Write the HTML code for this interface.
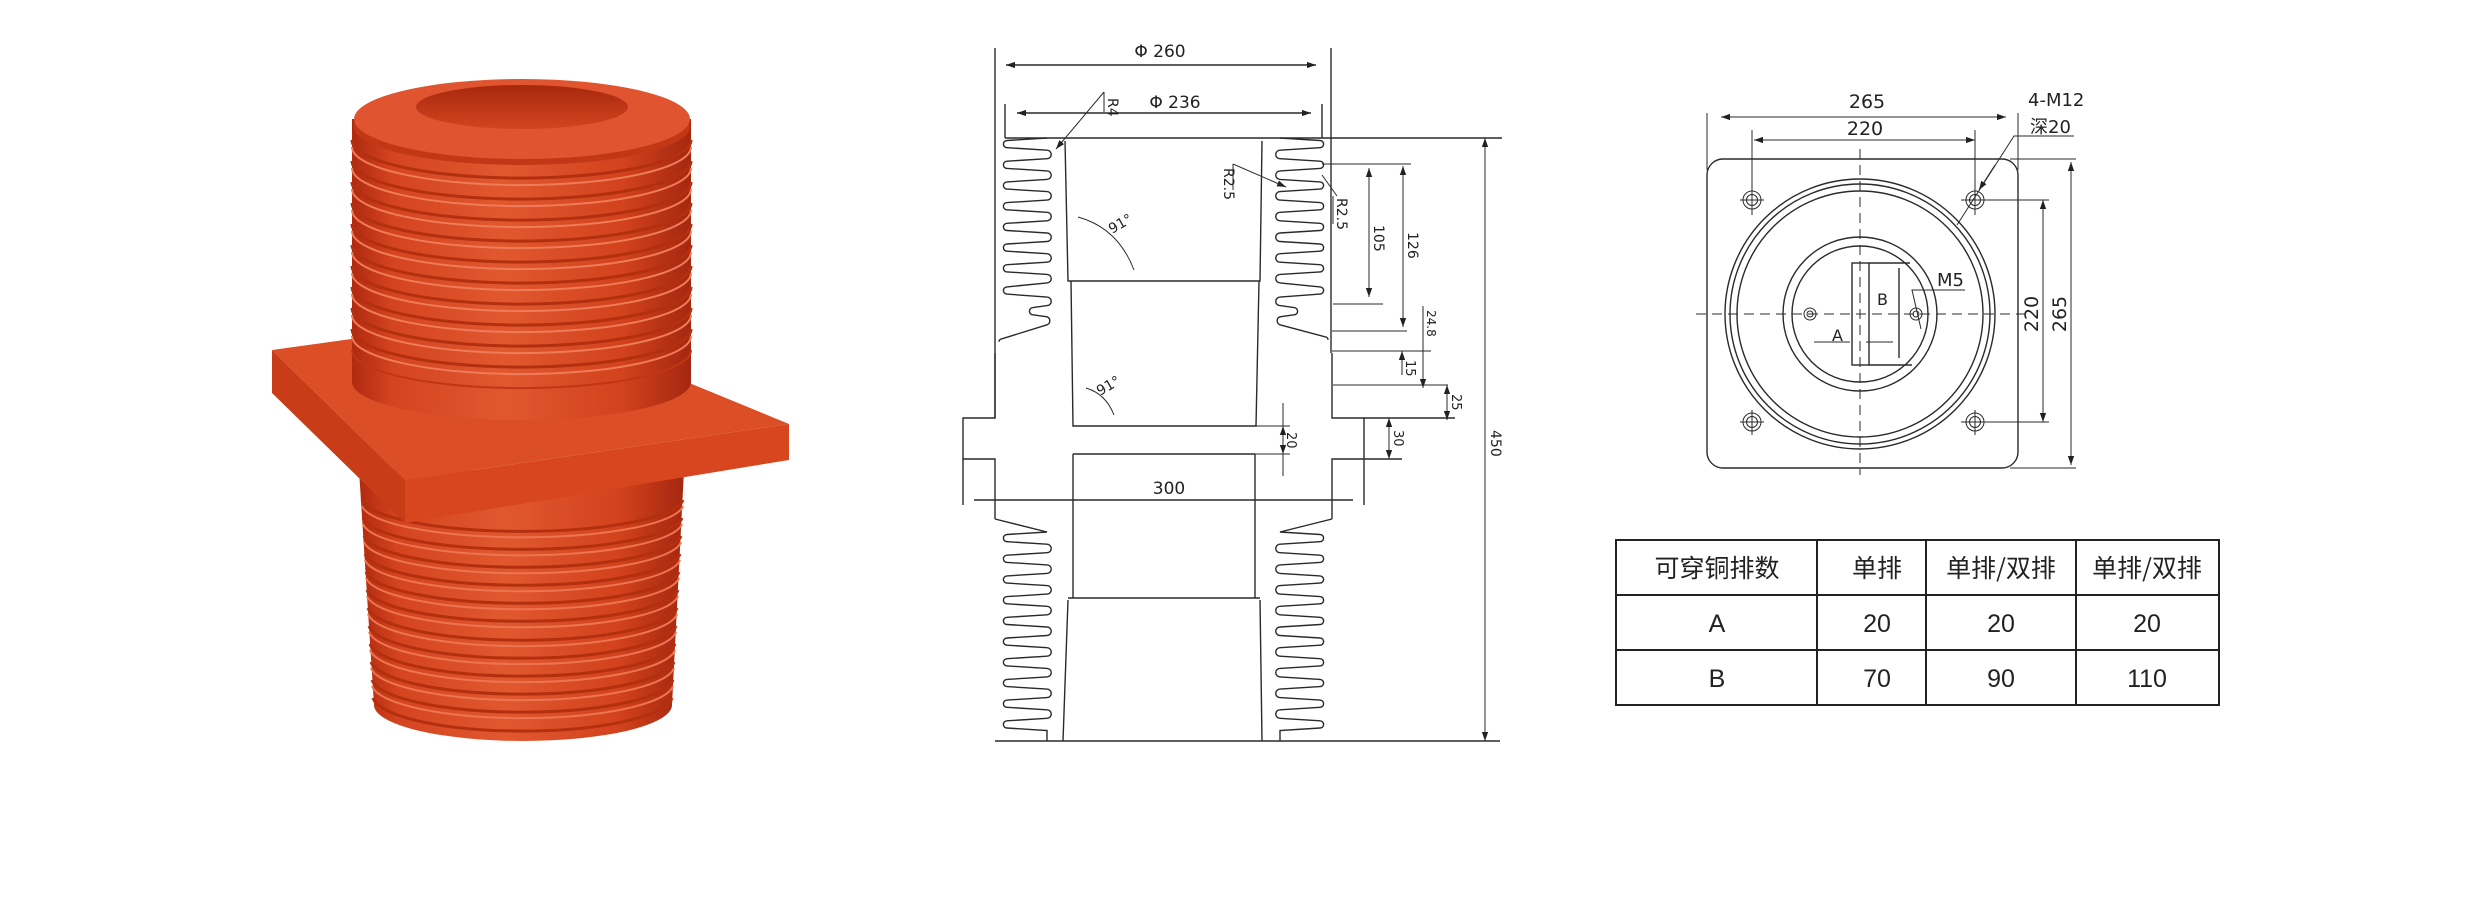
<!DOCTYPE html>
<html><head><meta charset="utf-8">
<style>
html,body{margin:0;padding:0;background:#fff;}
svg{display:block;}
.ln{stroke:#2a2a2a;stroke-width:1.4;fill:none;}
.th{stroke:#2a2a2a;stroke-width:1;fill:none;}
.t{font-family:"DejaVu Sans","Liberation Sans",sans-serif;fill:#222;}
.c{font-family:"Liberation Sans","Noto Sans CJK SC",sans-serif;fill:#222;}
</style></head>
<body>
<svg width="2480" height="924" viewBox="0 0 2480 924" xmlns="http://www.w3.org/2000/svg">
<defs>
<marker id="ar" viewBox="0 0 10 10" refX="10" refY="5" markerWidth="9" markerHeight="9" orient="auto-start-reverse" markerUnits="userSpaceOnUse">
<path d="M0,1.5 L10,5 L0,8.5 z" fill="#222"/></marker>
<linearGradient id="gb" x1="0" x2="1" y1="0" y2="0">
<stop offset="0" stop-color="#b02a10"/><stop offset="0.12" stop-color="#d44420"/>
<stop offset="0.45" stop-color="#e1582f"/><stop offset="0.8" stop-color="#d2421d"/>
<stop offset="1" stop-color="#a52710"/></linearGradient>
<linearGradient id="gh" x1="0" x2="0" y1="0" y2="1">
<stop offset="0" stop-color="#a8280e"/><stop offset="1" stop-color="#d24520"/></linearGradient>
</defs>
<rect width="2480" height="924" fill="#fff"/>

<!-- ===== PHOTO ===== -->
<!-- lower body -->
<path d="M359 470 L374 705 A149 36 0 0 0 672 705 L684 470 Z" fill="url(#gb)"/>
<g fill="none">
<path d="M362 500 A161 34 0 0 0 683 500" stroke="#b3300f" stroke-width="3"/>
<path d="M363 518 A160 34 0 0 0 682 518" stroke="#b3300f" stroke-width="3"/>
<path d="M364 536 A159 34 0 0 0 681 536" stroke="#b3300f" stroke-width="3"/>
<path d="M365 554 A158 34 0 0 0 680 554" stroke="#b3300f" stroke-width="3"/>
<path d="M366 572 A157 34 0 0 0 679 572" stroke="#b3300f" stroke-width="3"/>
<path d="M367 590 A156 34 0 0 0 678 590" stroke="#b3300f" stroke-width="3"/>
<path d="M368 608 A155 35 0 0 0 677 608" stroke="#b3300f" stroke-width="3"/>
<path d="M369 626 A154 35 0 0 0 676 626" stroke="#b3300f" stroke-width="3"/>
<path d="M370 644 A153 35 0 0 0 675 644" stroke="#b3300f" stroke-width="3"/>
<path d="M371 662 A152 35 0 0 0 674 662" stroke="#b3300f" stroke-width="3"/>
<path d="M372 680 A151 35 0 0 0 673 680" stroke="#b3300f" stroke-width="3"/>
<path d="M373 698 A150 36 0 0 0 672 698" stroke="#b3300f" stroke-width="3"/>
<path d="M362 506 A161 34 0 0 0 683 506" stroke="#ec7450" stroke-width="2"/>
<path d="M363 524 A160 34 0 0 0 682 524" stroke="#ec7450" stroke-width="2"/>
<path d="M364 542 A159 34 0 0 0 681 542" stroke="#ec7450" stroke-width="2"/>
<path d="M365 560 A158 34 0 0 0 680 560" stroke="#ec7450" stroke-width="2"/>
<path d="M366 578 A157 34 0 0 0 679 578" stroke="#ec7450" stroke-width="2"/>
<path d="M367 596 A156 34 0 0 0 678 596" stroke="#ec7450" stroke-width="2"/>
<path d="M368 614 A155 35 0 0 0 677 614" stroke="#ec7450" stroke-width="2"/>
<path d="M369 632 A154 35 0 0 0 676 632" stroke="#ec7450" stroke-width="2"/>
<path d="M370 650 A153 35 0 0 0 675 650" stroke="#ec7450" stroke-width="2"/>
<path d="M371 668 A152 35 0 0 0 674 668" stroke="#ec7450" stroke-width="2"/>
<path d="M372 686 A151 35 0 0 0 673 686" stroke="#ec7450" stroke-width="2"/>
</g>
<!-- flange -->
<polygon points="272,350 405,480 405,523 272,393" fill="#c93c18"/>
<polygon points="405,480 789,424 789,460 405,523" fill="#d8461f"/>
<polygon points="272,350 524,315 789,424 405,480" fill="#dc4e26"/>
<!-- upper body -->
<path d="M352 119 L352 382 A169 38 0 0 0 691 382 L691 119 Z" fill="url(#gb)"/>
<g fill="none">
<path d="M352 140 A169 38 0 0 0 691 140" stroke="#b3300f" stroke-width="3"/>
<path d="M352 161 A169 38 0 0 0 691 161" stroke="#b3300f" stroke-width="3"/>
<path d="M352 182 A169 38 0 0 0 691 182" stroke="#b3300f" stroke-width="3"/>
<path d="M352 203 A169 38 0 0 0 691 203" stroke="#b3300f" stroke-width="3"/>
<path d="M352 224 A169 38 0 0 0 691 224" stroke="#b3300f" stroke-width="3"/>
<path d="M352 245 A169 38 0 0 0 691 245" stroke="#b3300f" stroke-width="3"/>
<path d="M352 266 A169 38 0 0 0 691 266" stroke="#b3300f" stroke-width="3"/>
<path d="M352 287 A169 38 0 0 0 691 287" stroke="#b3300f" stroke-width="3"/>
<path d="M352 308 A169 38 0 0 0 691 308" stroke="#b3300f" stroke-width="3"/>
<path d="M352 329 A169 38 0 0 0 691 329" stroke="#b3300f" stroke-width="3"/>
<path d="M352 147 A169 38 0 0 0 691 147" stroke="#ef7c58" stroke-width="2"/>
<path d="M352 168 A169 38 0 0 0 691 168" stroke="#ef7c58" stroke-width="2"/>
<path d="M352 189 A169 38 0 0 0 691 189" stroke="#ef7c58" stroke-width="2"/>
<path d="M352 210 A169 38 0 0 0 691 210" stroke="#ef7c58" stroke-width="2"/>
<path d="M352 231 A169 38 0 0 0 691 231" stroke="#ef7c58" stroke-width="2"/>
<path d="M352 252 A169 38 0 0 0 691 252" stroke="#ef7c58" stroke-width="2"/>
<path d="M352 273 A169 38 0 0 0 691 273" stroke="#ef7c58" stroke-width="2"/>
<path d="M352 294 A169 38 0 0 0 691 294" stroke="#ef7c58" stroke-width="2"/>
<path d="M352 315 A169 38 0 0 0 691 315" stroke="#ef7c58" stroke-width="2"/>
<path d="M352 336 A169 38 0 0 0 691 336" stroke="#ef7c58" stroke-width="2"/>
<path d="M352 350 A169 38 0 0 0 691 350" stroke="#c03614" stroke-width="2"/>
</g>
<!-- top rim -->
<ellipse cx="522" cy="127" rx="168" ry="38" fill="#c23816"/>
<ellipse cx="522" cy="119" rx="168" ry="40" fill="#e05530"/>
<ellipse cx="522" cy="107" rx="106" ry="22" fill="url(#gh)"/>

<!-- ===== SECTION DRAWING ===== -->
<g class="ln">
<!-- extension lines Φ260 / Φ236 -->
<line x1="995" y1="48" x2="995" y2="418"/>
<line x1="1331" y1="48" x2="1331" y2="353"/>
<line x1="1005" y1="104" x2="1005" y2="138"/>
<line x1="1322" y1="104" x2="1322" y2="138"/>
<line x1="1006" y1="65" x2="1316" y2="65" marker-start="url(#ar)" marker-end="url(#ar)"/>
<line x1="1017" y1="113" x2="1311" y2="113" marker-start="url(#ar)" marker-end="url(#ar)"/>
<!-- top & bottom -->
<line x1="1005" y1="138" x2="1502" y2="138"/>
<line x1="995" y1="741" x2="1500" y2="741"/>
<!-- bore -->
<path d="M1065 141 L1068 281 L1260 281 L1262 141"/>
<path d="M1071 281 L1073 426 L1256 426 L1259 281"/>
<path d="M1073 454 L1255 454"/>
<path d="M1073 454 L1073 598 M1255 454 L1255 598"/>
<path d="M1068 598 L1260 598"/>
<path d="M1068 600 L1063 741 M1260 600 L1262 741"/>
<!-- flange -->
<path d="M995 353 L995 418 L963 418 L963 459 L995 459 L995 519"/>
<line x1="963" y1="459" x2="963" y2="505"/>
<path d="M1332 353 L1332 418 L1364 418 L1364 505"/>
<path d="M1332 519 L1332 459 L1364 459"/>
<line x1="1364" y1="418" x2="1455" y2="418"/>
<line x1="1364" y1="459" x2="1402" y2="459"/>
<line x1="974" y1="500" x2="1353" y2="500"/>
<!-- upper fins left -->
<path d="M1047 138 l-40 2.5 a3.6 3.6 0 0 0 0 7.2 l40 2.5 a4.25 4.25 0 0 1 0 8.5 l-40 2.5 a3.6 3.6 0 0 0 0 7.2 l40 2.5 a4.25 4.25 0 0 1 0 8.5 l-40 2.5 a3.6 3.6 0 0 0 0 7.2 l40 2.5 a4.25 4.25 0 0 1 0 8.5 l-40 2.5 a3.6 3.6 0 0 0 0 7.2 l40 2.5 a4.25 4.25 0 0 1 0 8.5 l-40 2.5 a3.6 3.6 0 0 0 0 7.2 l40 2.5 a4.25 4.25 0 0 1 0 8.5 l-40 2.5 a3.6 3.6 0 0 0 0 7.2 l40 2.5 a4.25 4.25 0 0 1 0 8.5 l-40 2.5 a3.6 3.6 0 0 0 0 7.2 l40 2.5 a4.25 4.25 0 0 1 0 8.5 l-40 4 a3.6 3.6 0 0 0 0 7.2 l40 3 a4.25 4.25 0 0 1 0 8.5 l-14 2 a3.6 3.6 0 0 0 0 7.2 l14 2 a4.25 4.25 0 0 1 0 8 l-45 14 a3 3 0 0 0 -3 3"/>
<!-- upper fins right -->
<path d="M1280 138 l40 2.5 a3.6 3.6 0 0 1 0 7.2 l-40 2.5 a4.25 4.25 0 0 0 0 8.5 l40 2.5 a3.6 3.6 0 0 1 0 7.2 l-40 2.5 a4.25 4.25 0 0 0 0 8.5 l40 2.5 a3.6 3.6 0 0 1 0 7.2 l-40 2.5 a4.25 4.25 0 0 0 0 8.5 l40 2.5 a3.6 3.6 0 0 1 0 7.2 l-40 2.5 a4.25 4.25 0 0 0 0 8.5 l40 2.5 a3.6 3.6 0 0 1 0 7.2 l-40 2.5 a4.25 4.25 0 0 0 0 8.5 l40 2.5 a3.6 3.6 0 0 1 0 7.2 l-40 2.5 a4.25 4.25 0 0 0 0 8.5 l40 2.5 a3.6 3.6 0 0 1 0 7.2 l-40 2.5 a4.25 4.25 0 0 0 0 8.5 l40 4 a3.6 3.6 0 0 1 0 7.2 l-40 3 a4.25 4.25 0 0 0 0 8.5 l14 2 a3.6 3.6 0 0 1 0 7.2 l-14 2 a4.25 4.25 0 0 0 0 8 l45 12 a3 3 0 0 1 3 3"/>
<!-- lower fins left -->
<path d="M995 519 L1047 532 l-40 2.5 a3.6 3.6 0 0 0 0 7.2 l40 2.5 a4.25 4.25 0 0 1 0 8.5 l-40 2.5 a3.6 3.6 0 0 0 0 7.2 l40 2.5 a4.25 4.25 0 0 1 0 8.5 l-40 2.5 a3.6 3.6 0 0 0 0 7.2 l40 2.5 a4.25 4.25 0 0 1 0 8.5 l-40 2.5 a3.6 3.6 0 0 0 0 7.2 l40 2.5 a4.25 4.25 0 0 1 0 8.5 l-40 2.5 a3.6 3.6 0 0 0 0 7.2 l40 2.5 a4.25 4.25 0 0 1 0 8.5 l-40 2.5 a3.6 3.6 0 0 0 0 7.2 l40 2.5 a4.25 4.25 0 0 1 0 8.5 l-40 2.5 a3.6 3.6 0 0 0 0 7.2 l40 2.5 a4.25 4.25 0 0 1 0 8.5 l-40 2.5 a3.6 3.6 0 0 0 0 7.2 l40 2.5 a4.25 4.25 0 0 1 0 8.5 l-40 2.5 a3.6 3.6 0 0 0 0 7.2 l40 2.5 a4.25 4.25 0 0 1 0 8.5 l-40 2.5 a3.6 3.6 0 0 0 0 7.2 l40 2.5 L1047 741"/>
<!-- lower fins right -->
<path d="M1332 519 L1280 532 l40 2.5 a3.6 3.6 0 0 1 0 7.2 l-40 2.5 a4.25 4.25 0 0 0 0 8.5 l40 2.5 a3.6 3.6 0 0 1 0 7.2 l-40 2.5 a4.25 4.25 0 0 0 0 8.5 l40 2.5 a3.6 3.6 0 0 1 0 7.2 l-40 2.5 a4.25 4.25 0 0 0 0 8.5 l40 2.5 a3.6 3.6 0 0 1 0 7.2 l-40 2.5 a4.25 4.25 0 0 0 0 8.5 l40 2.5 a3.6 3.6 0 0 1 0 7.2 l-40 2.5 a4.25 4.25 0 0 0 0 8.5 l40 2.5 a3.6 3.6 0 0 1 0 7.2 l-40 2.5 a4.25 4.25 0 0 0 0 8.5 l40 2.5 a3.6 3.6 0 0 1 0 7.2 l-40 2.5 a4.25 4.25 0 0 0 0 8.5 l40 2.5 a3.6 3.6 0 0 1 0 7.2 l-40 2.5 a4.25 4.25 0 0 0 0 8.5 l40 2.5 a3.6 3.6 0 0 1 0 7.2 l-40 2.5 a4.25 4.25 0 0 0 0 8.5 l40 2.5 a3.6 3.6 0 0 1 0 7.2 l-40 2.5 L1280 741"/>
<!-- inner fin walls -->
<line x1="1049" y1="138" x2="1049" y2="138"/>
</g>
<!-- right dims -->
<g class="th">
<line x1="1322" y1="164" x2="1411" y2="164"/>
<line x1="1333" y1="304" x2="1383" y2="304"/>
<line x1="1332" y1="331" x2="1407" y2="331"/>
<line x1="1332" y1="351" x2="1431" y2="351"/>
<line x1="1333" y1="385" x2="1448" y2="385"/>
<line x1="1369" y1="168" x2="1369" y2="297" marker-start="url(#ar)" marker-end="url(#ar)"/>
<line x1="1403" y1="166" x2="1403" y2="327" marker-start="url(#ar)" marker-end="url(#ar)"/>
<line x1="1402" y1="351" x2="1402" y2="375" marker-start="url(#ar)"/>
<line x1="1423" y1="306" x2="1423" y2="388" marker-end="url(#ar)"/>
<line x1="1447" y1="385" x2="1447" y2="420" marker-start="url(#ar)" marker-end="url(#ar)"/>
<line x1="1389" y1="418" x2="1389" y2="459" marker-start="url(#ar)" marker-end="url(#ar)"/>
<line x1="1283" y1="403" x2="1283" y2="476"/>
<line x1="1256" y1="426" x2="1290" y2="426"/>
<line x1="1255" y1="454" x2="1290" y2="454"/>
<line x1="1283" y1="426" x2="1283" y2="454" marker-start="url(#ar)" marker-end="url(#ar)"/>
<line x1="1485" y1="138" x2="1485" y2="741" marker-start="url(#ar)" marker-end="url(#ar)"/>
<!-- R4 leader -->
<line x1="1104" y1="92" x2="1056" y2="149" marker-end="url(#ar)"/>
<line x1="1104" y1="92" x2="1104" y2="112"/>
<!-- R2.5 leaders -->
<line x1="1233" y1="164" x2="1286" y2="187" marker-end="url(#ar)"/>
<line x1="1233" y1="164" x2="1233" y2="190"/>
<line x1="1322" y1="175" x2="1337" y2="196"/>
<line x1="1333" y1="196" x2="1333" y2="224"/>
<!-- 91° arcs -->
<path d="M1078 217 Q1118 228 1134 270"/>
<path d="M1086 388 Q1106 394 1114 415"/>
</g>
<g class="t" font-size="17">
<text x="1160" y="57" text-anchor="middle">Φ 260</text>
<text x="1175" y="108" text-anchor="middle">Φ 236</text>
<text x="1169" y="494" text-anchor="middle">300</text>
<text transform="translate(1108,98) rotate(90)" font-size="14">R4</text>
<text transform="translate(1224,168) rotate(90)" font-size="14">R2.5</text>
<text transform="translate(1337,198) rotate(90)" font-size="14">R2.5</text>
<text transform="translate(1374,225) rotate(90)" font-size="14">105</text>
<text transform="translate(1408,232) rotate(90)" font-size="14">126</text>
<text transform="translate(1427,310) rotate(90)" font-size="12">24.8</text>
<text transform="translate(1406,360) rotate(90)" font-size="13">15</text>
<text transform="translate(1452,394) rotate(90)" font-size="13">25</text>
<text transform="translate(1394,430) rotate(90)" font-size="13">30</text>
<text transform="translate(1287,432) rotate(90)" font-size="13">20</text>
<text transform="translate(1491,430) rotate(90)" font-size="14">450</text>
<text transform="translate(1112,234) rotate(-30)" font-size="14">91°</text>
<text transform="translate(1100,396) rotate(-30)" font-size="14">91°</text>
</g>

<!-- ===== TOP VIEW ===== -->
<g class="ln">
<rect x="1707" y="159" width="311" height="309" rx="16"/>
<circle cx="1860" cy="314" r="135"/>
<circle cx="1860" cy="314" r="130"/>
<circle cx="1860" cy="314" r="123"/>
<circle cx="1860" cy="314" r="77"/>
<circle cx="1860" cy="314" r="68"/>
<rect x="1852" y="263" width="17" height="102"/>
<path d="M1869 263 L1910 263 M1899 268 L1899 358 M1869 365 L1912 365"/>
<line x1="1814" y1="342" x2="1850" y2="342" class="th"/>
<line x1="1866" y1="342" x2="1893" y2="342" class="th"/>
</g>
<g class="th">
<line x1="1860" y1="149" x2="1860" y2="475" stroke-dasharray="10 6"/>
<line x1="1696" y1="314" x2="2025" y2="314" stroke-dasharray="10 6"/>
<g id="bh">
<circle cx="1752" cy="200" r="9"/><circle cx="1752" cy="200" r="5.5"/>
<line x1="1740" y1="200" x2="1764" y2="200"/><line x1="1752" y1="188" x2="1752" y2="213"/>
</g>
<g transform="translate(223,0)"><circle cx="1752" cy="200" r="9"/><circle cx="1752" cy="200" r="5.5"/><line x1="1740" y1="200" x2="1764" y2="200"/><line x1="1752" y1="188" x2="1752" y2="213"/></g>
<g transform="translate(0,222)"><circle cx="1752" cy="200" r="9"/><circle cx="1752" cy="200" r="5.5"/><line x1="1740" y1="200" x2="1764" y2="200"/><line x1="1752" y1="188" x2="1752" y2="213"/></g>
<g transform="translate(223,222)"><circle cx="1752" cy="200" r="9"/><circle cx="1752" cy="200" r="5.5"/><line x1="1740" y1="200" x2="1764" y2="200"/><line x1="1752" y1="188" x2="1752" y2="213"/></g>
<circle cx="1810" cy="314" r="6"/><circle cx="1810" cy="314" r="3"/>
<circle cx="1916" cy="314" r="6"/><circle cx="1916" cy="314" r="3"/>
<!-- M5 leader -->
<path d="M1921 329 L1912 290 L1965 290"/>
<!-- dims -->
<line x1="1707" y1="113" x2="1707" y2="170"/>
<line x1="2018" y1="113" x2="2018" y2="170"/>
<line x1="1721" y1="117" x2="2006" y2="117" marker-start="url(#ar)" marker-end="url(#ar)"/>
<line x1="1752" y1="130" x2="1752" y2="215"/>
<line x1="1975" y1="130" x2="1975" y2="215"/>
<line x1="1754" y1="140" x2="1975" y2="140" marker-start="url(#ar)" marker-end="url(#ar)"/>
<line x1="1961" y1="200" x2="2049" y2="200"/>
<line x1="1961" y1="422" x2="2049" y2="422"/>
<line x1="2043" y1="200" x2="2043" y2="422" marker-start="url(#ar)" marker-end="url(#ar)"/>
<line x1="2010" y1="159" x2="2076" y2="159"/>
<line x1="2010" y1="468" x2="2076" y2="468"/>
<line x1="2071" y1="162" x2="2071" y2="465" marker-start="url(#ar)" marker-end="url(#ar)"/>
<!-- 4-M12 leader -->
<path d="M2074 136 L2014 136 L1957 225"/>
<line x1="1995" y1="165" x2="1979" y2="190" marker-end="url(#ar)"/>
</g>
<g class="t" font-size="19">
<text x="1867" y="108" text-anchor="middle">265</text>
<text x="1865" y="135" text-anchor="middle">220</text>
<text transform="translate(2038,314) rotate(-90)" text-anchor="middle">220</text>
<text transform="translate(2066,314) rotate(-90)" text-anchor="middle">265</text>
<text x="2028" y="106" font-size="18">4-M12</text>
<text x="2030" y="133" font-size="18" style="font-family:'DejaVu Sans','Noto Sans CJK SC',sans-serif">深20</text>
<text x="1937" y="286" font-size="18">M5</text>
<text x="1877" y="305" font-size="16">B</text>
<text x="1832" y="341" font-size="16">A</text>
</g>

<!-- ===== TABLE ===== -->
<g stroke="#222" stroke-width="2" fill="none">
<rect x="1616" y="540" width="603" height="165"/>
<line x1="1616" y1="595" x2="2219" y2="595"/>
<line x1="1616" y1="650" x2="2219" y2="650"/>
<line x1="1817" y1="540" x2="1817" y2="705"/>
<line x1="1926" y1="540" x2="1926" y2="705"/>
<line x1="2076" y1="540" x2="2076" y2="705"/>
</g>
<g class="c" font-size="25" text-anchor="middle">
<text x="1717" y="577" style="font-family:'Noto Sans CJK SC',sans-serif">可穿铜排数</text>
<text x="1877" y="577" style="font-family:'Noto Sans CJK SC',sans-serif">单排</text>
<text x="2001" y="577" style="font-family:'Noto Sans CJK SC',sans-serif">单排/双排</text>
<text x="2147" y="577" style="font-family:'Noto Sans CJK SC',sans-serif">单排/双排</text>
<text x="1717" y="632">A</text>
<text x="1877" y="632">20</text>
<text x="2001" y="632">20</text>
<text x="2147" y="632">20</text>
<text x="1717" y="687">B</text>
<text x="1877" y="687">70</text>
<text x="2001" y="687">90</text>
<text x="2147" y="687">110</text>
</g>
</svg>
</body></html>
